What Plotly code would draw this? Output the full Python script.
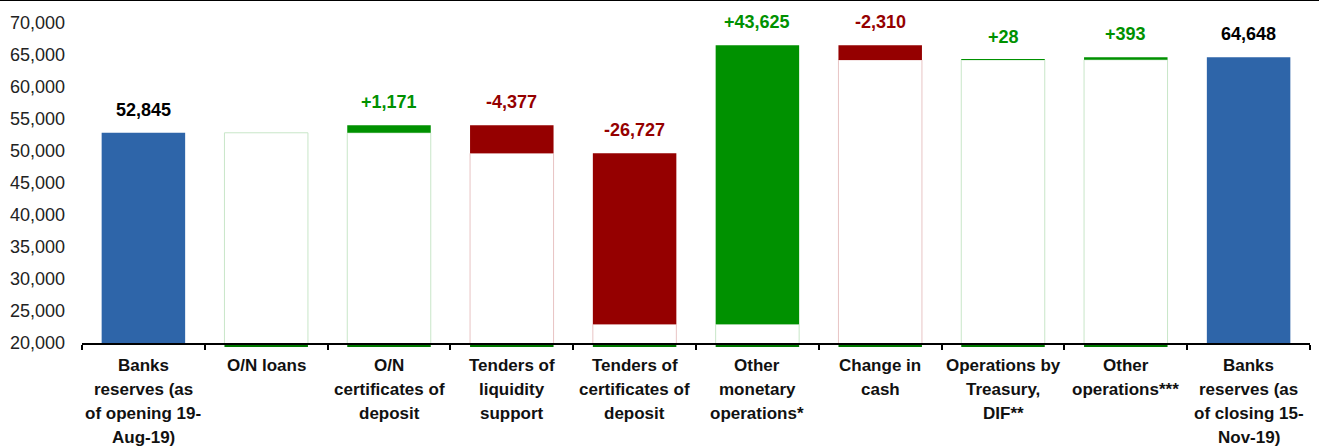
import plotly.graph_objects as go

categories = [
    "Banks<br>reserves (as<br>of opening 19-<br>Aug-19)",
    "O/N loans",
    "O/N<br>certificates of<br>deposit",
    "Tenders of<br>liquidity<br>support",
    "Tenders of<br>certificates of<br>deposit",
    "Other<br>monetary<br>operations*",
    "Change in<br>cash",
    "Operations by<br>Treasury,<br>DIF**",
    "Other<br>operations***",
    "Banks<br>reserves (as<br>of closing 15-<br>Nov-19)",
]
opening_reserves = 52845
changes = [0, 1171, -4377, -26727, 43625, -2310, 28, 393]
closing_reserves = 64648
change_labels = ["", "+1,171", "-4,377", "-26,727", "+43,625", "-2,310", "+28", "+393"]
total_labels = ["52,845", "64,648"]

BLUE = "#2E65A9"
GREEN = "#009100"
RED = "#950000"
LGREEN = "#c8e6c8"
LRED = "#e8c4c4"
FONT = "Liberation Sans, Arial, sans-serif"

xs = list(range(len(categories)))
n = len(categories)

# compute waterfall geometry
base_top = [None] * n
delta_base = [0] * n
delta_h = [0] * n
delta_col = [BLUE] * n
outline_col = ["rgba(0,0,0,0)"] * n
tops = [0] * n
labels = [""] * n
label_cols = ["#000"] * n

delta_h[0] = opening_reserves
tops[0] = opening_reserves
labels[0] = total_labels[0]
level = opening_reserves
for k, ch in enumerate(changes):
    i = k + 1
    lo = level + min(ch, 0)
    hi = level + max(ch, 0)
    base_top[i] = lo
    delta_base[i] = lo
    delta_h[i] = abs(ch)
    delta_col[i] = GREEN if ch >= 0 else RED
    outline_col[i] = LGREEN if ch >= 0 else LRED
    tops[i] = hi
    labels[i] = change_labels[k]
    label_cols[i] = GREEN if ch >= 0 else RED
    level += ch
delta_h[-1] = closing_reserves
tops[-1] = closing_reserves
labels[-1] = total_labels[1]

fig = go.Figure()
fig.add_trace(go.Bar(
    x=xs, y=base_top, base=0, width=0.68,
    marker=dict(color="white", line=dict(color=outline_col, width=1)),
    hoverinfo="skip", showlegend=False,
))
fig.add_trace(go.Bar(
    x=xs, y=delta_h, base=delta_base, width=0.68,
    marker=dict(color=delta_col, line=dict(width=0)),
    showlegend=False,
))

for i in xs:
    if labels[i]:
        fig.add_annotation(
            x=i, y=tops[i], xref="x", yref="y", text=labels[i],
            showarrow=False, yanchor="bottom", yshift=11,
            font=dict(family=FONT, size=18, color=label_cols[i], weight="bold"),
        )
    for j, line in enumerate(categories[i].split("<br>")):
        fig.add_annotation(
            x=i, y=0, xref="x", yref="paper", text=line,
            showarrow=False, yanchor="top", yshift=-(11 + 24 * j),
            font=dict(family=FONT, size=17, color="#111", weight="bold"),
        )
    if 0 < i < n - 1:
        fig.add_shape(type="line", xref="x", yref="paper",
                      x0=i - 0.34, x1=i + 0.34, y0=-0.009, y1=-0.009,
                      line=dict(color="#007a00", width=2))

fig.add_shape(type="line", xref="paper", yref="paper",
              x0=-0.08, x1=1.01, y0=1.0719, y1=1.0719,
              line=dict(color="black", width=2))

fig.update_layout(
    width=1319, height=448,
    margin=dict(l=82, r=9, t=23, b=105),
    plot_bgcolor="white", paper_bgcolor="white",
    barmode="overlay",
    xaxis=dict(range=[-0.5, n - 0.5], showticklabels=False, tickmode="array",
               tickvals=[x - 0.5 for x in xs] + [n - 0.5], ticks="outside",
               ticklen=5, tickwidth=2, tickcolor="black",
               showline=True, linecolor="black", linewidth=2, showgrid=False,
               zeroline=False),
    yaxis=dict(range=[20000, 70000], dtick=5000, tickformat=",",
               showgrid=False, zeroline=False, showline=False, ticks="",
               ticklabelstandoff=16,
               tickfont=dict(family=FONT, size=18, color="#222")),
)

fig.write_html("out.html")
